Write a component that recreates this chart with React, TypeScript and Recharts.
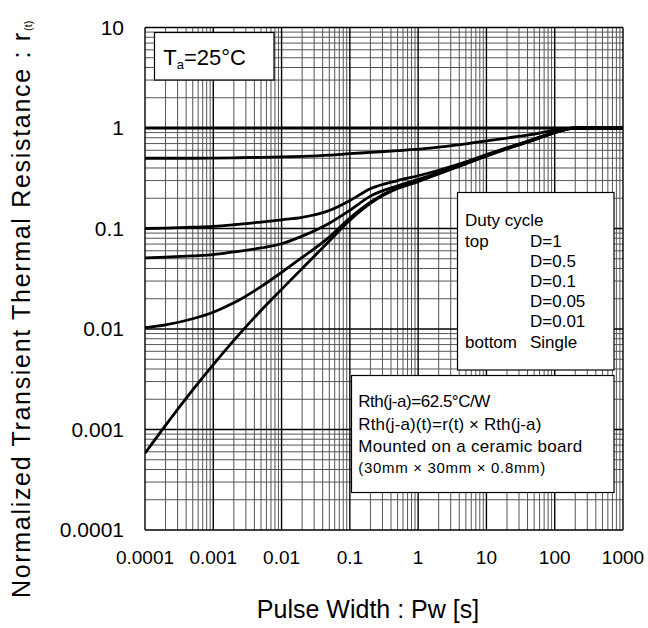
import React from 'react';
import { LineChart, Line, XAxis, YAxis, ReferenceLine } from 'recharts';

const FONT = '"Liberation Sans", Arial, Helvetica, sans-serif';

// Pulse width [s]
const pulseWidths = [0.0001, 0.0002, 0.0005, 0.001, 0.002, 0.005, 0.01, 0.02, 0.05, 0.1, 0.2, 0.5, 1, 2, 5, 10, 20, 50, 100, 200, 500, 1000];
// Normalized transient thermal resistance r(t)
const dutyOne = [1, 1, 1, 1, 1, 1, 1, 1, 1, 1, 1, 1, 1, 1, 1, 1, 1, 1, 1, 1, 1, 1];
const dutyHalf = [0.5, 0.5, 0.5, 0.502, 0.505, 0.51, 0.515, 0.522, 0.537, 0.555, 0.572, 0.595, 0.615, 0.645, 0.695, 0.745, 0.795, 0.87, 0.95, 1, 1, 1];
const dutyTenth = [0.1, 0.101, 0.103, 0.105, 0.109, 0.116, 0.122, 0.129, 0.151, 0.19, 0.249, 0.3, 0.335, 0.38, 0.46, 0.545, 0.635, 0.775, 0.91, 1, 1, 1];
const dutyFive = [0.051, 0.052, 0.0535, 0.055, 0.0585, 0.064, 0.0705, 0.084, 0.113, 0.152, 0.21, 0.266, 0.308, 0.362, 0.45, 0.535, 0.63, 0.77, 0.905, 1, 1, 1];
const dutyOnePct = [0.0103, 0.011, 0.01265, 0.0147, 0.0182, 0.0264, 0.0366, 0.0515, 0.082, 0.127, 0.183, 0.255, 0.298, 0.355, 0.445, 0.53, 0.625, 0.765, 0.9, 1, 1, 1];
const singlePulse = [0.00058, 0.0011, 0.00248, 0.00443, 0.0077, 0.0153, 0.0248, 0.04, 0.075, 0.121, 0.178, 0.25, 0.292, 0.35, 0.44, 0.525, 0.62, 0.76, 0.9, 1, 1, 1];

const xTicks = [0.0001, 0.001, 0.01, 0.1, 1, 10, 100, 1000];
const xTickLabels = ['0.0001', '0.001', '0.01', '0.1', '1', '10', '100', '1000'];
const yTicks = [0.0001, 0.001, 0.01, 0.1, 1, 10];
const yTickLabels = ['0.0001', '0.001', '0.01', '0.1', '1', '10'];
const minorSteps = [2, 3, 4, 5, 6, 7, 8, 9];

const data = pulseWidths.map((x, i) => ({
  x,
  d1: dutyOne[i],
  d05: dutyHalf[i],
  d01: dutyTenth[i],
  d005: dutyFive[i],
  d001: dutyOnePct[i],
  single: singlePulse[i],
}));

const minorX = xTicks.slice(0, -1).flatMap((d) => minorSteps.map((k) => d * k));
const minorY = yTicks.slice(0, -1).flatMap((d) => minorSteps.map((k) => d * k));

const findLabel = (v: number, ticks: number[], labels: string[]) => {
  const i = ticks.findIndex((t) => Math.abs(Math.log10(t) - Math.log10(v)) < 1e-6);
  return i >= 0 ? labels[i] : '';
};

const seriesKeys = ['d1', 'd05', 'd01', 'd005', 'd001', 'single'];

const pageCss = `html,body{margin:0;padding:0;overflow:hidden;}
.recharts-surface{display:block;}`;

export default function App() {
  const W = 648;
  const H = 628;
  return (
    <div style={{ position: 'relative', width: W, height: H, overflow: 'hidden', fontFamily: FONT }}>
      <style>{pageCss}</style>
      <LineChart width={W} height={H} data={data} margin={{ top: 27.5, right: 25, bottom: 0, left: 0 }}>
        <XAxis
          dataKey="x"
          type="number"
          scale="log"
          domain={[0.0001, 1000]}
          ticks={xTicks}
          interval={0}
          allowDataOverflow
          tickFormatter={(v: number) => findLabel(v, xTicks, xTickLabels)}
          tickLine={false}
          axisLine={false}
          tickSize={0}
          tickMargin={21}
          height={98}
          tick={{ fontSize: 19, fill: '#000', fontFamily: FONT }}
        />
        <YAxis
          type="number"
          scale="log"
          domain={[0.0001, 10]}
          ticks={yTicks}
          interval={0}
          allowDataOverflow
          tickFormatter={(v: number) => findLabel(v, yTicks, yTickLabels)}
          tickLine={false}
          axisLine={false}
          tickSize={0}
          tickMargin={21}
          width={145}
          tick={{ fontSize: 21, fill: '#000', fontFamily: FONT }}
        />
        {minorX.map((v) => (
          <ReferenceLine key={'mx' + v} x={v} stroke="#555" strokeWidth={1} />
        ))}
        {minorY.map((v) => (
          <ReferenceLine key={'my' + v} y={v} stroke="#555" strokeWidth={1} />
        ))}
        {xTicks.map((v) => (
          <ReferenceLine key={'Mx' + v} x={v} stroke="#000" strokeWidth={1.4} />
        ))}
        {yTicks.map((v) => (
          <ReferenceLine key={'My' + v} y={v} stroke="#000" strokeWidth={1.4} />
        ))}
        {seriesKeys.map((k) => (
          <Line
            key={k}
            type="monotone"
            dataKey={k}
            stroke="#000"
            strokeWidth={2.8}
            dot={false}
            activeDot={false}
            isAnimationActive={false}
          />
        ))}
      </LineChart>
      <svg
        width={W}
        height={H}
        style={{ position: 'absolute', left: 0, top: 0, pointerEvents: 'none' }}
        fontFamily={FONT}
      >
        {/* Ta box */}
        <rect x={154.5} y={32.5} width={119.5} height={47.5} fill="#fff" stroke="#000" strokeWidth={1.2} />
        <text x={163.3} y={65} fontSize={22} fill="#000">
          T<tspan fontSize={13} dy={4}>a</tspan>
          <tspan dy={-4}>=25°C</tspan>
        </text>

        {/* Duty cycle box */}
        <rect x={457.5} y={192.5} width={156.5} height={177.5} fill="#fff" stroke="#000" strokeWidth={1.2} />
        <g fontSize={17} fill="#000">
          <text x={465} y={226}>Duty cycle</text>
          <text x={465} y={247}>top</text>
          <text x={530} y={247}>D=1</text>
          <text x={530} y={267}>D=0.5</text>
          <text x={530} y={287}>D=0.1</text>
          <text x={530} y={307}>D=0.05</text>
          <text x={530} y={327}>D=0.01</text>
          <text x={465} y={348}>bottom</text>
          <text x={530} y={348}>Single</text>
        </g>

        {/* Rth box */}
        <rect x={351.5} y={375.5} width={262.5} height={117} fill="#fff" stroke="#000" strokeWidth={1.2} />
        <g fill="#000">
          <text x={358.3} y={407.3} fontSize={17} textLength={132} lengthAdjust="spacing">Rth(j-a)=62.5°C/W</text>
          <text x={358.3} y={430} fontSize={17} textLength={183} lengthAdjust="spacing">Rth(j-a)(t)=r(t) × Rth(j-a)</text>
          <text x={358.3} y={451.7} fontSize={17} textLength={224} lengthAdjust="spacing">Mounted on a ceramic board</text>
          <text x={358.3} y={473.3} fontSize={15} textLength={187} lengthAdjust="spacing">(30mm × 30mm × 0.8mm)</text>
        </g>

        {/* Axis titles */}
        <text x={368} y={618} fontSize={25} textAnchor="middle" fill="#000">
          Pulse Width : Pw [s]
        </text>
        <text
          transform="rotate(-90)"
          x={-598}
          y={30}
          fontSize={25}
          fill="#000"
          textLength={565}
          lengthAdjust="spacing"
        >
          Normalized Transient Thermal Resistance : r
        </text>
        <text transform="rotate(-90)" x={-31} y={32} fontSize={11} fill="#000">
          (t)
        </text>
      </svg>
    </div>
  );
}
